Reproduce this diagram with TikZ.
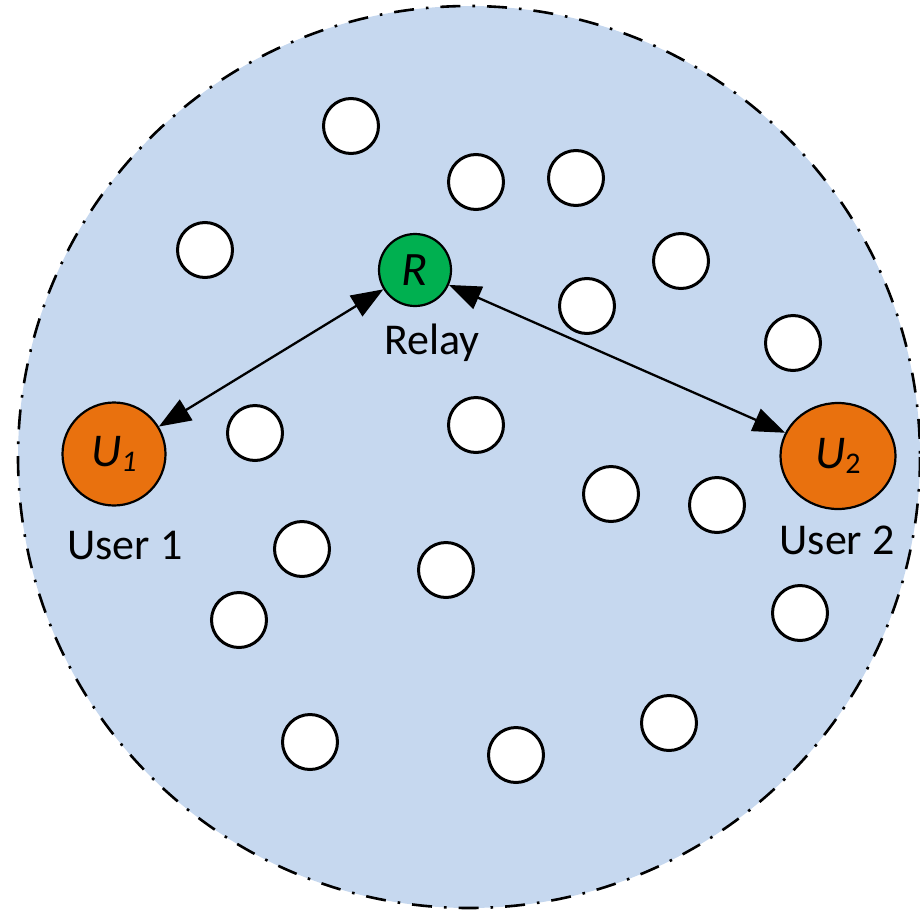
\documentclass[tikz,border=0pt]{standalone}
\usepackage{fontspec}
\setmainfont{Carlito}
\usetikzlibrary{arrows.meta,shapes.geometric}
\definecolor{fieldblue}{RGB}{198,216,239}
\definecolor{relaygreen}{RGB}{0,176,80}
\definecolor{userorange}{RGB}{233,113,14}
\begin{document}
\begin{tikzpicture}[x=0.5pt,y=-0.5pt,
  scatterer/.style={circle,draw=black,line width=1.5pt,fill=white,
    minimum size=27.5pt,inner sep=0pt},
  relaynode/.style={circle,draw=black,line width=1.1pt,fill=relaygreen,
    minimum size=36pt,inner sep=0pt,font=\fontsize{24}{28}\selectfont\itshape},
  usernode/.style={draw=black,line width=1.1pt,fill=userorange,inner sep=0pt,
    font=\fontsize{23.5}{28}\selectfont\itshape},
  caption/.style={font=\fontsize{22}{26}\selectfont,inner sep=0pt},
  link/.style={line width=1.15pt,{Triangle[length=16pt,width=12pt]}-{Triangle[length=16pt,width=12pt]}}]
  \useasboundingbox (0,0) rectangle (920,910);

  % coverage area
  \draw[fill=fieldblue,line width=1.3pt,
        dash pattern=on 10pt off 6pt on 1.3pt off 6pt]
    (469,457) circle[radius=451];

  % scattering objects
  \foreach \i/\x/\y in {1/351/126, 2/476/182, 3/576/178, 4/205/250,
      5/681/261, 6/587/306, 7/793/343, 8/255/433, 9/476/425,
      10/611/494, 11/717/505, 12/302/549, 13/446/570, 14/239/620,
      15/800/613, 16/310/742, 17/516/755, 18/669/723}
    \node[scatterer] (w\i) at (\x,\y) {};

  % relay and users
  \node[relaynode] (R) at (415,270) {R};
  \node[usernode,circle,minimum size=51.5pt] (U1) at (114,454)
    {U\raisebox{-0.12em}{\fontsize{15}{17}\selectfont 1}};
  \node[usernode,ellipse,minimum width=57.5pt,minimum height=53pt] (U2) at (838,456)
    {U\raisebox{-0.12em}{\fontsize{15}{17}\selectfont\upshape 2}};

  \node[caption] (lr) at (432,343) {Relay};
  \node[caption] (l1) at (125,545) {User 1};
  \node[caption] (l2) at (837,540) {User 2};

  % two-way links
  \draw[link] (U1) -- (R);
  \draw[link] (R) -- (U2);
\end{tikzpicture}
\end{document}
